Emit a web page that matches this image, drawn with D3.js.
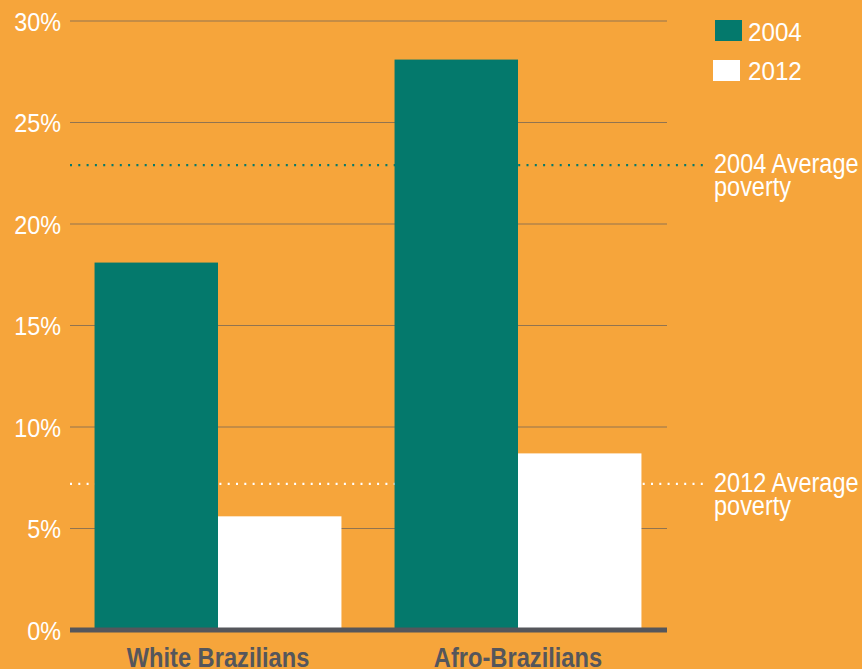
<!DOCTYPE html>
<html><head><meta charset="utf-8">
<script src="https://cdn.jsdelivr.net/npm/d3@7"></script>
<style>html,body{margin:0;padding:0;background:#f6a53b;}svg{display:block;}</style>
</head><body>
<svg id="c" width="862" height="669"></svg>
<script>
const categories = ["White Brazilians", "Afro-Brazilians"];
const seriesNames = ["2004", "2012"];
const values2004 = [18.1, 28.1];
const values2012 = [5.6, 8.7];
const averageValues = [22.9, 7.2];
const averageLabels = [["2004 Average", "poverty"], ["2012 Average", "poverty"]];
const yTicks = [0, 5, 10, 15, 20, 25, 30];

const colors = {"2004": "#04796c", "2012": "#ffffff"};
const font = "'Liberation Sans', Arial, sans-serif";
const svg = d3.select("#c");
svg.append("rect").attr("width", 862).attr("height", 669).attr("fill", "#f6a53b");

// condense text horizontally to mimic a condensed face
function condense(sel, ratio) {
  sel.each(function() {
    const w = this.getComputedTextLength();
    d3.select(this).attr("textLength", w * ratio).attr("lengthAdjust", "spacingAndGlyphs");
  });
}

const y = d3.scaleLinear().domain([0, 30]).range([630, 21]);
const x = d3.scaleBand().domain(categories).range([68, 668]).paddingInner(0.177).paddingOuter(0.0885);
const xs = d3.scaleBand().domain(seriesNames).range([0, x.bandwidth()]);

// gridlines
svg.append("g").selectAll("line").data(yTicks.filter(d => d > 0)).join("line")
  .attr("x1", 70).attr("x2", 667).attr("y1", d => y(d)).attr("y2", d => y(d))
  .attr("stroke", "#917450").attr("stroke-width", 1.2);

// y axis labels
const yAxis = d3.axisLeft(y).tickValues(yTicks).tickFormat(d => d + "%").tickSize(0).tickPadding(0);
const ga = svg.append("g").attr("transform", "translate(61,0)").call(yAxis);
ga.select(".domain").remove();
ga.selectAll("text").attr("fill", "#fff").attr("font-family", font).attr("font-size", 26).attr("dy", "0.35em")
  .call(condense, 0.9);

// average lines (behind bars)
const avgColors = ["#04796c", "#ffffff"];
svg.append("g").selectAll("line").data(averageValues).join("line")
  .attr("x1", 70).attr("x2", 706).attr("y1", d => y(d)).attr("y2", d => y(d))
  .attr("stroke", (d, i) => avgColors[i]).attr("stroke-width", 2.2)
  .attr("stroke-dasharray", "2,6.3");

// bars
const rows = categories.map((c, i) => ({cat: c, vals: [{s: "2004", v: values2004[i]}, {s: "2012", v: values2012[i]}]}));
const g = svg.append("g").selectAll("g").data(rows).join("g").attr("transform", d => `translate(${x(d.cat)},0)`);
g.selectAll("rect").data(d => d.vals).join("rect")
  .attr("x", d => xs(d.s)).attr("width", xs.bandwidth())
  .attr("y", d => y(d.v)).attr("height", d => y(0) - y(d.v))
  .attr("fill", d => colors[d.s]);

// baseline
svg.append("line").attr("x1", 70).attr("x2", 667).attr("y1", 630).attr("y2", 630)
  .attr("stroke", "#55565b").attr("stroke-width", 5);

// category labels
const xAxis = d3.axisBottom(x).tickSize(0).tickPadding(0);
const gx = svg.append("g").attr("transform", "translate(0,667)").call(xAxis);
gx.select(".domain").remove();
gx.selectAll("text").attr("fill", "#55565b").attr("font-family", font).attr("font-weight", "bold")
  .attr("font-size", 28).attr("dy", "0").attr("y", 0)
  .call(condense, 0.845);

// legend
const leg = svg.append("g");
seriesNames.forEach((s, i) => {
  leg.append("rect").attr("x", i === 0 ? 715 : 713).attr("y", i === 0 ? 20 : 60).attr("width", 27).attr("height", 21).attr("fill", colors[s]);
  leg.append("text").attr("x", 748).attr("y", i === 0 ? 41 : 80).text(s)
    .attr("fill", "#fff").attr("font-family", font).attr("font-size", 26)
    .call(condense, 0.93);
});

// average labels
averageLabels.forEach((lines, i) => {
  const t = svg.append("text").attr("x", 714).attr("y", y(averageValues[i]) + 8)
    .attr("fill", "#fff").attr("font-family", font).attr("font-size", 27);
  lines.forEach((l, j) => t.append("tspan").attr("x", 714).attr("dy", j === 0 ? 0 : 23).text(l));
  t.selectAll("tspan").call(condense, 0.87);
});
</script>
</body></html>
